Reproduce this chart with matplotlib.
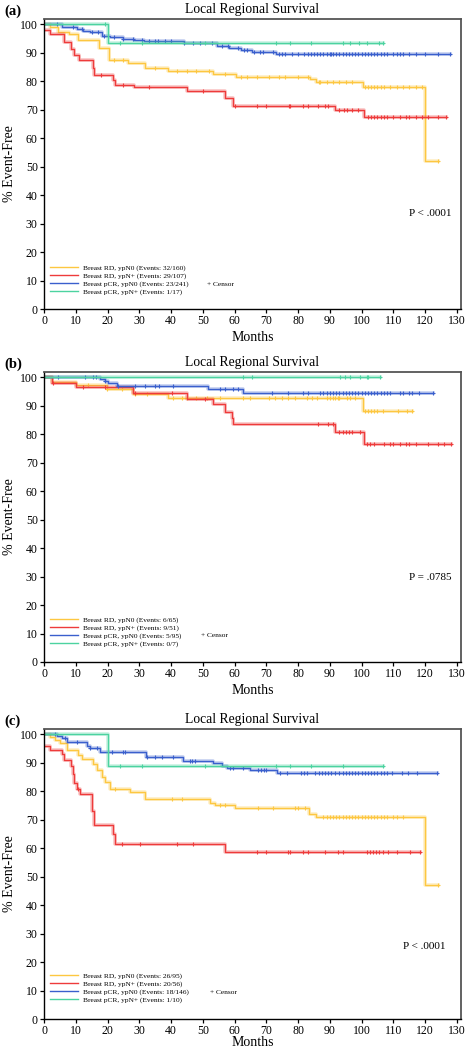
import numpy as np
import matplotlib
matplotlib.use("Agg")
import matplotlib.pyplot as plt
from matplotlib.lines import Line2D

plt.rcParams['font.family'] = ['Liberation Serif', 'DejaVu Serif']

# couleurs des groupes
cores = ['#FDC741', '#EE3B3B', '#3A5FCD', '#4CD3A0']

# ---------------- painel (a) ----------------
a_rdn0_t = [0, 1.8, 4.4, 8, 10.8, 17.2, 20.5, 26.5, 31.8, 39.2, 53.3, 60.6, 83.7, 85.6, 100.3, 119.9, 124]
a_rdn0_s = [100, 99, 97.4, 96.7, 94.5, 91.6, 87.5, 86.3, 84.6, 83.7, 82.5, 81.3, 80.8, 79.6, 77.8, 51.9, 51.9]
a_rdn0_c = [22, 25, 35, 42, 45, 48, 52, 57, 62, 64, 67, 71, 74, 76, 80, 83, 86.5, 87, 89, 91, 93, 95, 97,
            101, 102, 103, 104, 105, 106, 107, 109, 111, 113, 115, 117, 119, 124]
a_rdnp_t = [0, 1.9, 6.2, 8.5, 9.6, 11.1, 15.3, 15.9, 21.6, 22.4, 28.3, 45, 57, 59.6, 91.6, 100.7, 126.7]
a_rdnp_s = [98, 96.6, 93.9, 91.2, 89.2, 87.4, 84.6, 82.2, 80.5, 78.7, 77.8, 76.6, 74.0, 71.1, 69.7, 67.5, 67.5]
a_rdnp_c = [18, 25, 33, 50, 60, 67, 70, 77, 77.4, 81.6, 83.2, 86.3, 88.4, 89.5, 93, 94.5, 95.5, 97, 99,
            102, 103, 104, 105, 106, 107, 108, 110, 112, 114, 115, 117, 119, 121, 124, 126.7]
a_pcn0_t = [0, 5.6, 10.3, 12.4, 14.5, 18.2, 20.9, 25, 28.2, 31.4, 44, 54.5, 58.2, 61.9, 65.4, 73.2, 127.8]
a_pcn0_s = [100, 99, 98.4, 97.7, 97.2, 96, 95.4, 94.9, 94.5, 94.2, 93.3, 92.2, 91.6, 90.8, 90.2, 89.6, 89.6]
a_pcn0_c = [4, 9, 12, 15, 17, 19, 22, 25, 28, 31, 33, 35, 36, 38, 40, 44, 47, 49, 53, 56, 58, 61, 63, 64,
            66, 68, 69, 72, 74, 75, 76, 78, 80, 82, 83, 84, 85, 86, 87, 88, 89, 90, 90.5, 91, 92, 93, 94,
            95, 96, 97, 98, 99, 100, 101, 102, 103, 104, 105, 106, 107, 108, 110, 111, 112, 113, 115, 117,
            120, 124, 127.8]
a_pcnp_t = [0, 20.2, 106.8]
a_pcnp_s = [100, 93.3, 93.3]
a_pcnp_c = [19.2, 23.9, 30.8, 50.7, 73, 77.5, 84, 94.2, 96.3, 99.2, 101.6, 105.5, 106.8]
a_labels = ['Breast RD, ypN0 (Events: 32/160)', 'Breast RD, ypN+ (Events: 29/107)',
            'Breast pCR, ypN0 (Events: 23/241)', 'Breast pCR, ypN+ (Events: 1/17)']

# ---------------- painel (b) ----------------
b_rdn0_t = [0, 2.4, 10.1, 19.7, 28.1, 39.1, 100.3, 116]
b_rdn0_s = [100, 98.3, 97.1, 95.7, 94.2, 92.7, 88.0, 88.0]
b_rdn0_c = [13.8, 19.8, 24.5, 28.5, 32.4, 40.6, 43.4, 45, 48, 51.3, 55.4, 62.7, 65, 71, 72.7, 75, 76.8,
            79, 82.8, 84.4, 86, 89, 90, 91, 91.7, 92.5, 93, 95.4, 96.3, 97.9,
            101, 102, 103, 104, 105, 106.7, 111.4, 114.3, 116]
b_rdnp_t = [0, 2.4, 10.1, 28.1, 45.1, 53.3, 57, 59.1, 59.6, 91.6, 100.7, 128.3]
b_rdnp_s = [100, 98.0, 96.5, 94.3, 92.2, 90.4, 87.9, 85.8, 83.7, 80.9, 76.5, 76.5]
b_rdnp_c = [2.8, 12.3, 19.2, 28.6, 40.3, 50.7, 86.2, 89.4, 91, 93, 94, 95, 96, 97, 99.5,
            101.6, 102.5, 104, 107, 109, 110, 112, 114, 115, 117, 121, 124, 126, 128.3]
b_pcn0_t = [0, 17.6, 19.2, 20.2, 22.9, 51.7, 62.7, 122.5]
b_pcn0_s = [100, 99.2, 98.6, 97.8, 96.9, 95.7, 94.5, 94.5]
b_pcn0_c = [4.5, 12.9, 15.5, 16.4, 19.2, 23.3, 28.6, 31.8, 34.9, 36.2, 40.6, 55.4, 57, 59.5, 61,
            71.7, 76.8, 81.5, 83, 87, 88, 89, 90, 91, 92, 93, 94, 95, 96, 97, 98, 99, 100, 101,
            102, 103, 104, 105, 106, 107, 108, 109, 112, 113, 115, 116, 118, 122.5]
b_pcnp_t = [0, 105.8]
b_pcnp_s = [100, 100]
b_pcnp_c = [62.7, 65.4, 93.2, 94.7, 96.3, 99.5, 101.6, 102.1, 105.8]
b_labels = ['Breast RD, ypN0 (Events: 6/65)', 'Breast RD, ypN+ (Events: 9/51)',
            'Breast pCR, ypN0 (Events: 5/95)', 'Breast pCR, ypN+ (Events: 0/7)']

# ---------------- painel (c) ----------------
c_rdn0_t = [0, 1.9, 3.5, 5.1, 7.2, 10.8, 11.9, 15.5, 16.6, 18.2, 19.2, 20.8, 27.1, 31.8, 52.3, 53.8,
            60.1, 83.5, 85.8, 120, 124]
c_rdn0_s = [100, 98.9, 97.8, 96.9, 94.5, 92.5, 91.1, 89.6, 87.3, 85.0, 83.2, 80.9, 79.8, 77.4, 75.9,
            75.1, 73.9, 72.1, 70.9, 47.2, 47.2]
c_rdn0_c = [22.3, 40.2, 43.3, 55.4, 57, 67.4, 72.2, 79, 80, 82.2, 88, 89, 90, 91, 92, 93, 94, 95, 96,
            97, 98, 99, 100, 101, 102, 103, 104, 105, 106, 107, 108, 110, 111, 113, 124]
c_rdnp_t = [0, 1.9, 5.6, 6.2, 8.4, 9.1, 9.6, 10.4, 11.4, 15, 15.6, 21.6, 22.4, 57, 118.3]
c_rdnp_s = [96.0, 94.5, 93.1, 90.8, 88.7, 86.1, 82.9, 80.9, 78.9, 73.0, 68.1, 65.1, 61.4, 58.6, 58.6]
c_rdnp_c = [10.8, 24.5, 30.2, 41.8, 47, 67, 70, 76.9, 77.4, 81.6, 83.2, 88.4, 92.6, 94.2,
            101.6, 102.5, 103.5, 104.5, 105.5, 106.7, 108.3, 111, 115.2, 118.3]
c_pcn0_t = [0, 4, 5.6, 7.2, 13.5, 14.5, 17.6, 32.1, 43.9, 53.1, 55.9, 57.5, 64.8, 73.4, 123.7]
c_pcn0_s = [100, 99.5, 98.6, 97.2, 96.0, 95.2, 93.7, 92.0, 90.6, 89.9, 88.7, 88.0, 87.3, 86.4, 86.4]
c_pcn0_c = [3.5, 6.6, 10.3, 14.5, 16.6, 21.3, 25, 25.5, 32.3, 34.9, 37, 40.7, 46, 46.5, 47.5, 58.5,
            59.6, 62.7, 67.4, 68.3, 69.2, 70, 74.3, 76.4, 81, 82, 82.7, 85.3, 86.5, 87.5, 88.5, 89.5,
            90.5, 91.5, 93, 94, 95, 96, 97, 98, 99, 100, 101, 102, 103, 104, 105, 106, 107, 108, 109.6,
            112.8, 114.6, 117.4, 123.7]
c_pcnp_t = [0, 20.2, 106.8]
c_pcnp_s = [100, 88.7, 88.7]
c_pcnp_c = [24, 30.8, 50.7, 73.2, 77.4, 84, 94.2, 106.8]
c_labels = ['Breast RD, ypN0 (Events: 26/95)', 'Breast RD, ypN+ (Events: 20/56)',
            'Breast pCR, ypN0 (Events: 18/146)', 'Breast pCR, ypN+ (Events: 1/10)']

paineis = [
    ('(a)', [(a_rdn0_t, a_rdn0_s, a_rdn0_c), (a_rdnp_t, a_rdnp_s, a_rdnp_c),
             (a_pcn0_t, a_pcn0_s, a_pcn0_c), (a_pcnp_t, a_pcnp_s, a_pcnp_c)], a_labels,
     'P < .0001', (0.926, 0.331), 0.155, (0.39, 0.083), 309, 11, 2.5),
    ('(b)', [(b_rdn0_t, b_rdn0_s, b_rdn0_c), (b_rdnp_t, b_rdnp_s, b_rdnp_c),
             (b_pcn0_t, b_pcn0_s, b_pcn0_c), (b_pcnp_t, b_pcnp_s, b_pcnp_c)], b_labels,
     'P = .0785', (0.926, 0.29), 0.156, (0.376, 0.09), 662, 364, 2.5),
    ('(c)', [(c_rdn0_t, c_rdn0_s, c_rdn0_c), (c_rdnp_t, c_rdnp_s, c_rdnp_c),
             (c_pcn0_t, c_pcn0_s, c_pcn0_c), (c_pcnp_t, c_pcnp_s, c_pcnp_c)], c_labels,
     'P < .0001', (0.911, 0.249), 0.159, (0.398, 0.09), 1019, 721, -1),
]

W, H = 465, 1050
fig = plt.figure(figsize=(W / 100, H / 100), dpi=100)

for letra, curvas, labels, ptxt, ppos, legy, cpos, y0, ylet, lp in paineis:
    ax = fig.add_axes([44 / W, 1 - y0 / H, 417 / W, 290 / H])
    for (t, s, c), cor in zip(curvas, cores):
        t = np.array(t)
        s = np.array(s)
        ax.step(t, s, where='post', color=cor, lw=2.6, alpha=0.3)
        ax.step(t, s, where='post', color=cor, lw=1.0)
        # marcas de censura
        c = np.array(c)
        idx = np.searchsorted(t, c, side='right') - 1
        ax.plot(c, s[idx], ls='none', marker='+', ms=3.2, mew=0.8, color=cor)

    ax.set_xlim(0, 131.3)
    ax.set_ylim(0, 101.8)
    ax.set_xticks(np.arange(0, 131, 10))
    ax.set_yticks(np.arange(0, 101, 10))
    ax.tick_params(labelsize=8.5, length=3, width=0.9, direction='out', pad=1.5)
    for lado in ['left', 'bottom']:
        ax.spines[lado].set_linewidth(1.0)
    for lado in ['top', 'right']:
        ax.spines[lado].set_linewidth(1.3)
        ax.spines[lado].set_color('#555555')
    ax.set_xlabel('Months', fontsize=10, labelpad=lp)
    ax.set_ylabel('% Event-Free', fontsize=10, labelpad=3)
    ax.set_title('Local Regional Survival', fontsize=9.8, pad=4)

    handles = [Line2D([], [], color=cor, lw=1.0) for cor in cores]
    ax.legend(handles, labels, loc='upper left', bbox_to_anchor=(0.0144, legy),
              frameon=False, fontsize=5.3, handlelength=3.8, handletextpad=0.7,
              labelspacing=0.2, borderpad=0, borderaxespad=0)
    ax.text(cpos[0], cpos[1], '+ Censor', transform=ax.transAxes, fontsize=5.3, va='center')
    ax.text(ppos[0], ppos[1], ptxt, transform=ax.transAxes, fontsize=8, ha='center', va='center')

    fig.text(4 / W, 1 - ylet / H, letra, fontsize=10.5, weight='bold', va='center')

fig.savefig('out.png', dpi=100)
